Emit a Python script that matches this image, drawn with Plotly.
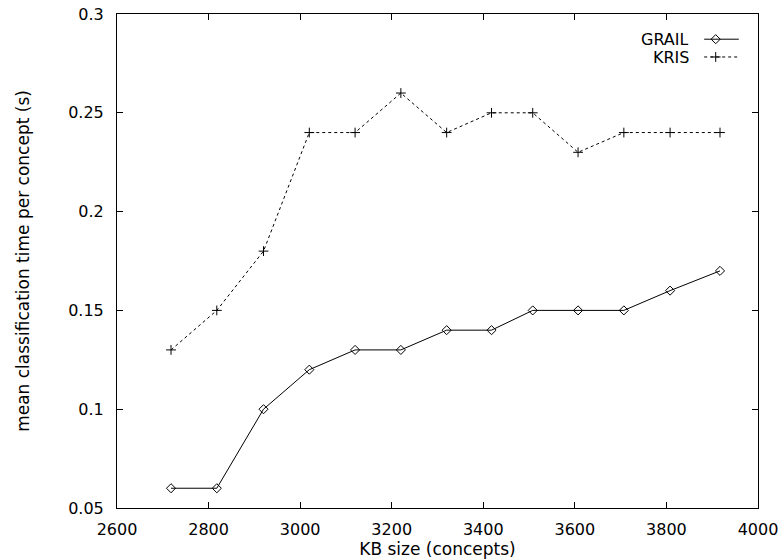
import plotly.graph_objects as go

kb_size = [2718, 2818, 2920, 3020, 3120, 3220, 3320, 3418, 3508, 3607, 3707, 3808, 3917]
grail = [0.06, 0.06, 0.10, 0.12, 0.13, 0.13, 0.14, 0.14, 0.15, 0.15, 0.15, 0.16, 0.17]
kris = [0.13, 0.15, 0.18, 0.24, 0.24, 0.26, 0.24, 0.25, 0.25, 0.23, 0.24, 0.24, 0.24]
x_ticks = [2600, 2800, 3000, 3200, 3400, 3600, 3800, 4000]
y_ticks = [0.05, 0.1, 0.15, 0.2, 0.25, 0.3]
y_tick_labels = ["0.05", "0.1", "0.15", "0.2", "0.25", "0.3"]

FONT = "DejaVu Sans, Liberation Sans, Arial, sans-serif"

fig = go.Figure()
fig.add_trace(go.Scatter(
    x=kb_size, y=grail, mode="lines+markers", name="GRAIL",
    line=dict(color="black", width=1),
    marker=dict(symbol="diamond-open", size=7, color="black", line=dict(width=1)),
    showlegend=False))
fig.add_trace(go.Scatter(
    x=kb_size, y=kris, mode="lines+markers", name="KRIS",
    line=dict(color="black", width=1, dash="3px,3px"),
    marker=dict(symbol="cross-thin-open", size=7, color="black", line=dict(width=1, color="black")),
    showlegend=False))

# manual legend (text left of sample, gnuplot style) on an overlay axis
leg_names = ["GRAIL", "KRIS"]
leg_y = [0.949, 0.913]
leg_dash = ["solid", "3px,3px"]
leg_sym = ["diamond-open", "cross-thin-open"]
for name, yy, dsh, sym in zip(leg_names, leg_y, leg_dash, leg_sym):
    fig.add_trace(go.Scatter(
        x=[0.916, 0.970], y=[yy, yy], mode="lines", xaxis="x2", yaxis="y2",
        line=dict(color="black", width=1, dash=dsh), showlegend=False, hoverinfo="skip"))
    fig.add_trace(go.Scatter(
        x=[0.934], y=[yy], mode="markers", xaxis="x2", yaxis="y2",
        marker=dict(symbol=sym, size=7, color="black", line=dict(width=1, color="black")),
        showlegend=False, hoverinfo="skip"))
    fig.add_annotation(x=0.894, y=yy, xref="x2", yref="y2", text=name, showarrow=False,
                       xanchor="right", yanchor="middle", height=16, borderpad=0,
                       font=dict(size=16, color="black", family=FONT))

axis_common = dict(showgrid=False, zeroline=False, showline=True, linecolor="black", linewidth=1,
                   mirror="allticks", ticks="inside", ticklen=6, tickcolor="black", tickwidth=1,
                   tickfont=dict(size=16, color="black", family=FONT), automargin=False)

fig.update_layout(
    width=782, height=560,
    margin=dict(l=117, r=24, t=14, b=52),
    paper_bgcolor="white", plot_bgcolor="white",
    font=dict(family=FONT, size=16, color="black"),
    xaxis=dict(range=[2600, 4000], tickvals=x_ticks, ticktext=[str(v) for v in x_ticks],
               title=dict(text="KB size (concepts)", standoff=3, font=dict(size=17, family=FONT)),
               ticklabelstandoff=7, **axis_common),
    yaxis=dict(range=[0.05, 0.3], tickvals=y_ticks, ticktext=y_tick_labels,
               title=dict(text="mean classification time per concept (s)", standoff=34,
                          font=dict(size=17, family=FONT)),
               ticklabelstandoff=9, **axis_common),
    xaxis2=dict(overlaying="x", range=[0, 1], visible=False, fixedrange=True),
    yaxis2=dict(overlaying="y", range=[0, 1], visible=False, fixedrange=True),
)

fig.write_html("out.html")
